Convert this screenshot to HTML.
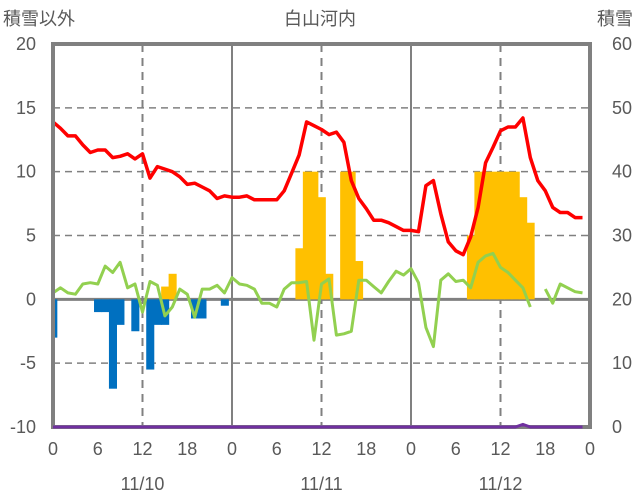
<!DOCTYPE html>
<html><head><meta charset="utf-8"><style>
html,body{margin:0;padding:0;background:#fff;}
svg{display:block;font-family:"Liberation Sans","Noto Sans CJK JP",sans-serif;}
</style></head><body>
<svg id="chart" width="636" height="501" viewBox="0 0 636 501"></svg>
<script>
const hours = [0,6,12,18,0,6,12,18,0,6,12,18,0];
const dates = ["11/10","11/11","11/12"];
const leftTicks = [20,15,10,5,0,-5,-10];
const rightTicks = [60,50,40,30,20,10,0];
const redSeries = [13.9,13.4,12.8,12.8,12.1,11.5,11.7,11.7,11.1,11.2,11.4,11.0,11.4,9.5,10.4,10.2,10.0,9.6,9.0,9.1,8.8,8.5,7.9,8.1,8.0,8.0,8.1,7.8,7.8,7.8,7.8,8.5,9.9,11.3,13.9,13.6,13.3,12.9,13.1,12.3,9.3,7.9,7.1,6.2,6.2,6.0,5.7,5.4,5.4,5.3,8.9,9.3,6.7,4.5,3.8,3.5,4.9,7.2,10.7,11.9,13.2,13.5,13.5,14.2,11.1,9.3,8.5,7.2,6.8,6.8,6.4,6.4];
const greenSeries = [0.5,0.9,0.5,0.4,1.2,1.3,1.2,2.6,2.1,2.9,0.9,1.2,-1.0,1.4,1.1,-1.3,-0.6,0.8,0.4,-1.4,0.8,0.8,1.1,0.5,1.7,1.2,1.1,0.8,-0.3,-0.3,-0.6,0.8,1.3,1.3,1.4,-3.2,1.2,1.6,-2.8,-2.7,-2.5,1.5,1.5,1.0,0.5,1.4,2.2,1.9,2.4,1.3,-2.2,-3.7,1.5,2.0,1.4,1.5,0.9,2.9,3.4,3.6,2.5,2.1,1.5,0.9,-0.6,null,0.8,-0.3,1.2,0.9,0.6,0.5];
const blueBars = [[0,-3],[6,-1],[7,-1],[8,-7],[9,-2],[11,-2.5],[13,-5.5],[14,-2],[15,-2],[19,-1.5],[20,-1.5],[23,-0.5]];
const orangeBars = [[15,1],[16,2],[33,4],[34,10],[35,10],[36,8],[37,2],[39,10],[40,10],[41,3],[56,5],[57,10],[58,10],[59,10],[60,10],[61,10],[62,10],[63,8],[64,6]];
const purpleSeries = [0,0,0,0,0,0,0,0,0,0,0,0,0,0,0,0,0,0,0,0,0,0,0,0,0,0,0,0,0,0,0,0,0,0,0,0,0,0,0,0,0,0,0,0,0,0,0,0,0,0,0,0,0,0,0,0,0,0,0,0,0,0,0,0.4,0,0,0,0,0,0,0,0];

const NS="http://www.w3.org/2000/svg";
const svg=document.getElementById('chart');
const X0=53,X1=590,YT=44,YB=427;
function x(h){return X0+(X1-X0)*h/72;}
function yL(v){return YB-(v+10)*(YB-YT)/30;}
function yR(v){return YB-v*(YB-YT)/60;}
function mk(tag,attrs){const e=document.createElementNS(NS,tag);for(const k in attrs)e.setAttribute(k,attrs[k]);svg.appendChild(e);return e;}
const txtCol="#595959";

leftTicks.forEach(t=>{
  if(t===20||t===-10)return;
  const l=mk('line',{x1:X0,x2:X1,y1:yL(t),y2:yL(t),stroke:'#808080','stroke-width':t===0?3:1.5,'stroke-dasharray':t===0?'':'7,5'});
  
  
});
for(let h=12;h<72;h+=12){
  const day=h%24===0;
  const l=mk('line',{x1:x(h),x2:x(h),y1:YT,y2:YB,stroke:'#808080','stroke-width':2,'stroke-dasharray':day?'':'8,6'});
  
  
}
const bw=(X1-X0)/72;
orangeBars.forEach(([h,v])=>{
  const xl=Math.max(X0,x(h)-bw/2);
  const r=mk('rect',{x:xl,y:yL(v),width:x(h)+bw/2-xl+0.6,height:yL(0)-yL(v),fill:'#FFC000'});
  
  
});
blueBars.forEach(([h,v])=>{
  const xl=Math.max(X0,x(h)-bw/2);
  const r=mk('rect',{x:xl,y:yL(0),width:x(h)+bw/2-xl+0.6,height:yL(v)-yL(0),fill:'#0070C0'});
  
  
});
function linePath(arr,yf){
  let d='',pen=false;
  arr.forEach((v,i)=>{if(v===null){pen=false;return;}d+=(pen?'L':'M')+x(i).toFixed(1)+','+yf(v).toFixed(1);pen=true;});
  return d;
}
const g=mk('path',{d:linePath(greenSeries,yL),fill:'none',stroke:'#92D050','stroke-width':3,'stroke-linejoin':'round'});


const rl=mk('path',{d:linePath(redSeries,yL),fill:'none',stroke:'#FF0000','stroke-width':3.5,'stroke-linejoin':'round'});


const fr=mk('rect',{x:X0,y:YT,width:X1-X0,height:YB-YT,fill:'none',stroke:'#808080','stroke-width':4});


const pl=mk('path',{d:linePath(purpleSeries,yR),fill:'none',stroke:'#7030A0','stroke-width':3,'stroke-linejoin':'round'});



function text(s,xx,yy,anchor,name){
  const t=mk('text',{x:xx,y:yy,'text-anchor':anchor,fill:txtCol,'font-size':18});
  t.textContent=s;
  
  
  return t;
}
leftTicks.forEach(t=>text(String(t),36,yL(t)+6,'end','left-tick-label'));
rightTicks.forEach(t=>text(String(t),612,yR(t)+6,'start','right-tick-label'));
hours.forEach((h,i)=>text(String(h),x(i*6),455,'middle','x-tick-label'));
dates.forEach((d,i)=>text(d,x(12+24*i),490,'middle','date-label'));
text('積雪以外',3,25,'start','left-axis-title');
text('積雪',633,25,'end','right-axis-title');
text('白山河内',320,25,'middle','chart-title');
</script>
</body></html>
